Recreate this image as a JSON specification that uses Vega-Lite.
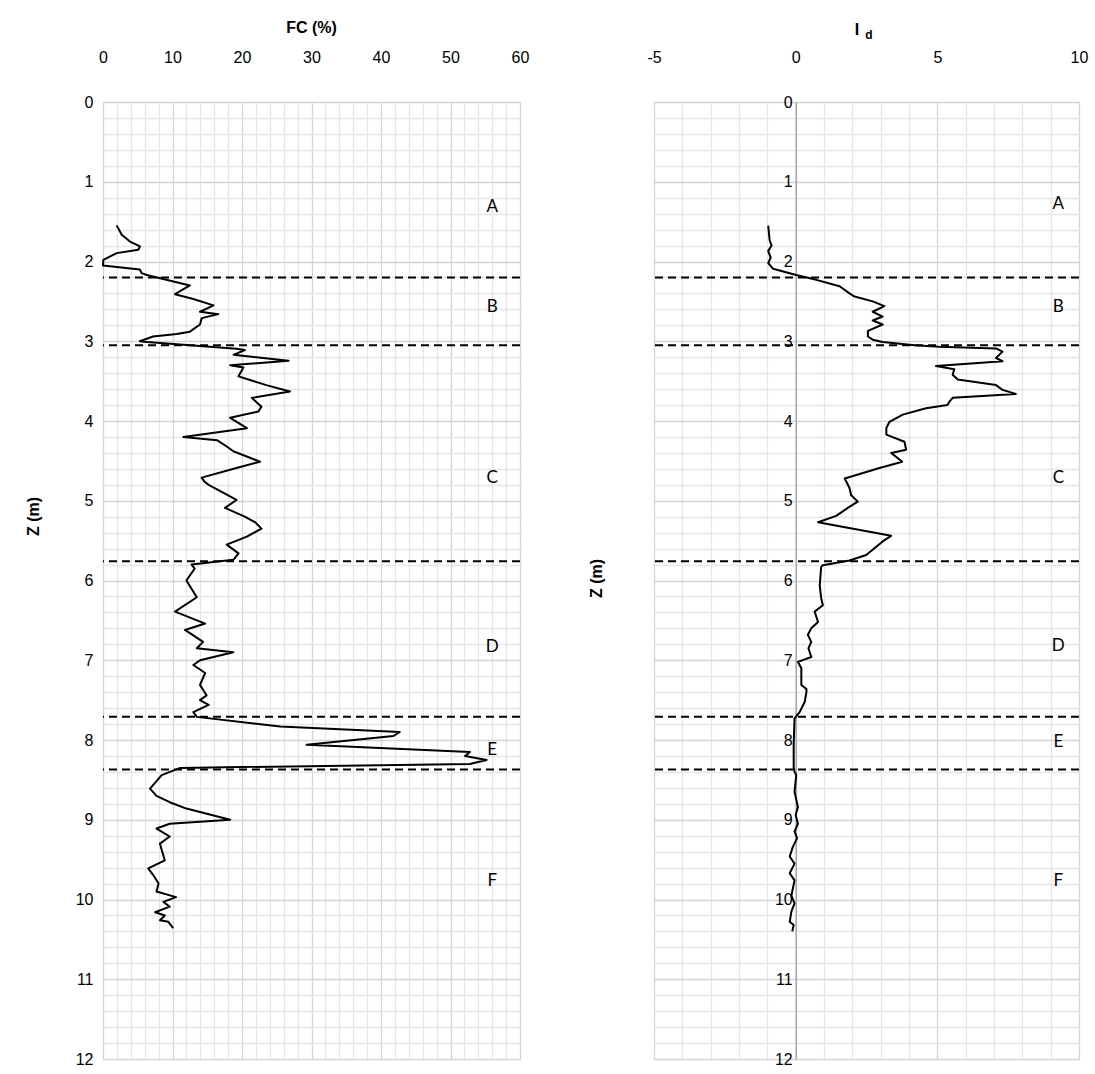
{
  "$schema": "https://vega.github.io/schema/vega-lite/v6.json",
  "padding": {"left": 25, "top": 19, "right": 5, "bottom": 5},
  "background": "white",
  "config": {
    "view": {"stroke": "#bfbfbf", "strokeWidth": 1}
  },
  "datasets": {
    "fc": [
      {"z": 1.547, "fc": 1.97}, {"z": 1.665, "fc": 2.69}, {"z": 1.75, "fc": 3.88}, {"z": 1.81, "fc": 5.32}, {"z": 1.853, "fc": 5.08},
      {"z": 1.895, "fc": 1.97}, {"z": 1.98, "fc": 0.05}, {"z": 2.05, "fc": 0.0}, {"z": 2.10, "fc": 5.3}, {"z": 2.146, "fc": 5.56},
      {"z": 2.17, "fc": 6.3}, {"z": 2.30, "fc": 12.5}, {"z": 2.41, "fc": 10.36}, {"z": 2.47, "fc": 13.0}, {"z": 2.55, "fc": 15.9},
      {"z": 2.63, "fc": 13.96}, {"z": 2.66, "fc": 16.6}, {"z": 2.71, "fc": 14.2}, {"z": 2.79, "fc": 13.96}, {"z": 2.88, "fc": 12.5},
      {"z": 2.91, "fc": 10.6}, {"z": 2.94, "fc": 7.2}, {"z": 3.0, "fc": 5.3}, {"z": 3.01, "fc": 6.3}, {"z": 3.095, "fc": 19.2},
      {"z": 3.11, "fc": 20.4}, {"z": 3.17, "fc": 18.8}, {"z": 3.245, "fc": 26.7}, {"z": 3.30, "fc": 18.3}, {"z": 3.33, "fc": 20.2},
      {"z": 3.44, "fc": 19.5}, {"z": 3.55, "fc": 23.5}, {"z": 3.63, "fc": 26.9}, {"z": 3.71, "fc": 21.4}, {"z": 3.82, "fc": 22.8},
      {"z": 3.88, "fc": 22.35}, {"z": 3.96, "fc": 18.3}, {"z": 4.09, "fc": 20.7}, {"z": 4.2, "fc": 11.55}, {"z": 4.24, "fc": 16.4},
      {"z": 4.32, "fc": 17.8}, {"z": 4.38, "fc": 18.75}, {"z": 4.51, "fc": 22.6}, {"z": 4.59, "fc": 19.2}, {"z": 4.71, "fc": 14.2},
      {"z": 4.76, "fc": 14.6}, {"z": 4.80, "fc": 15.2}, {"z": 4.91, "fc": 17.55}, {"z": 4.99, "fc": 19.2}, {"z": 5.09, "fc": 17.55},
      {"z": 5.20, "fc": 20.4}, {"z": 5.27, "fc": 21.9}, {"z": 5.35, "fc": 22.8}, {"z": 5.45, "fc": 20.7}, {"z": 5.55, "fc": 17.8},
      {"z": 5.66, "fc": 19.5}, {"z": 5.74, "fc": 18.75}, {"z": 5.80, "fc": 12.75}, {"z": 5.85, "fc": 13.2}, {"z": 6.0, "fc": 12.0},
      {"z": 6.21, "fc": 13.5}, {"z": 6.39, "fc": 10.36}, {"z": 6.54, "fc": 14.7}, {"z": 6.62, "fc": 11.8}, {"z": 6.77, "fc": 14.4},
      {"z": 6.85, "fc": 13.5}, {"z": 6.90, "fc": 18.75}, {"z": 7.0, "fc": 13.96}, {"z": 7.06, "fc": 13.0}, {"z": 7.16, "fc": 14.7},
      {"z": 7.31, "fc": 13.96}, {"z": 7.44, "fc": 14.9}, {"z": 7.50, "fc": 13.96}, {"z": 7.56, "fc": 15.2}, {"z": 7.65, "fc": 13.0},
      {"z": 7.71, "fc": 13.5}, {"z": 7.83, "fc": 25.5}, {"z": 7.90, "fc": 42.7}, {"z": 7.95, "fc": 41.8}, {"z": 8.06, "fc": 29.3},
      {"z": 8.15, "fc": 52.8}, {"z": 8.20, "fc": 52.1}, {"z": 8.25, "fc": 55.2}, {"z": 8.30, "fc": 52.8}, {"z": 8.35, "fc": 11.1},
      {"z": 8.44, "fc": 8.45}, {"z": 8.61, "fc": 6.76}, {"z": 8.70, "fc": 7.7}, {"z": 8.78, "fc": 9.6}, {"z": 8.86, "fc": 12.0},
      {"z": 9.0, "fc": 18.3}, {"z": 9.05, "fc": 9.6}, {"z": 9.11, "fc": 7.7}, {"z": 9.21, "fc": 9.6}, {"z": 9.30, "fc": 8.2},
      {"z": 9.38, "fc": 8.45}, {"z": 9.51, "fc": 8.9}, {"z": 9.61, "fc": 6.5}, {"z": 9.69, "fc": 7.2}, {"z": 9.80, "fc": 8.0},
      {"z": 9.90, "fc": 7.7}, {"z": 9.97, "fc": 10.5}, {"z": 10.03, "fc": 8.7}, {"z": 10.09, "fc": 9.6}, {"z": 10.16, "fc": 7.5},
      {"z": 10.20, "fc": 8.9}, {"z": 10.26, "fc": 8.2}, {"z": 10.28, "fc": 9.4}, {"z": 10.36, "fc": 10.1}
    ],
    "id": [
      {"z": 1.55, "id": -0.97}, {"z": 1.73, "id": -0.92}, {"z": 1.80, "id": -0.85}, {"z": 1.87, "id": -0.97}, {"z": 1.95, "id": -0.88},
      {"z": 2.02, "id": -0.97}, {"z": 2.09, "id": -0.80}, {"z": 2.17, "id": 0.02}, {"z": 2.23, "id": 0.73}, {"z": 2.31, "id": 1.55},
      {"z": 2.40, "id": 1.90}, {"z": 2.44, "id": 2.08}, {"z": 2.50, "id": 2.72}, {"z": 2.56, "id": 3.13}, {"z": 2.63, "id": 2.72},
      {"z": 2.69, "id": 3.07}, {"z": 2.74, "id": 2.72}, {"z": 2.79, "id": 3.07}, {"z": 2.87, "id": 2.55}, {"z": 2.94, "id": 2.55},
      {"z": 2.98, "id": 2.72}, {"z": 3.01, "id": 3.07}, {"z": 3.05, "id": 4.2}, {"z": 3.07, "id": 5.07}, {"z": 3.09, "id": 7.07},
      {"z": 3.13, "id": 7.3}, {"z": 3.21, "id": 7.07}, {"z": 3.25, "id": 7.3}, {"z": 3.31, "id": 4.95}, {"z": 3.35, "id": 5.6},
      {"z": 3.42, "id": 5.54}, {"z": 3.48, "id": 5.72}, {"z": 3.55, "id": 7.07}, {"z": 3.61, "id": 7.3}, {"z": 3.66, "id": 7.77},
      {"z": 3.71, "id": 5.54}, {"z": 3.76, "id": 5.42}, {"z": 3.80, "id": 5.36}, {"z": 3.84, "id": 4.6}, {"z": 3.92, "id": 3.78},
      {"z": 4.01, "id": 3.31}, {"z": 4.09, "id": 3.2}, {"z": 4.17, "id": 3.2}, {"z": 4.26, "id": 3.84}, {"z": 4.36, "id": 3.9},
      {"z": 4.40, "id": 3.37}, {"z": 4.51, "id": 3.76}, {"z": 4.59, "id": 2.96}, {"z": 4.72, "id": 1.73}, {"z": 4.84, "id": 1.90},
      {"z": 4.93, "id": 1.96}, {"z": 5.01, "id": 2.19}, {"z": 5.09, "id": 1.84}, {"z": 5.19, "id": 1.43}, {"z": 5.27, "id": 0.79},
      {"z": 5.32, "id": 1.55}, {"z": 5.44, "id": 3.37}, {"z": 5.51, "id": 3.07}, {"z": 5.68, "id": 2.49}, {"z": 5.75, "id": 1.90},
      {"z": 5.81, "id": 0.96}, {"z": 5.83, "id": 0.90}, {"z": 6.06, "id": 0.85}, {"z": 6.22, "id": 0.90}, {"z": 6.31, "id": 0.96},
      {"z": 6.39, "id": 0.67}, {"z": 6.52, "id": 0.79}, {"z": 6.60, "id": 0.55}, {"z": 6.68, "id": 0.43}, {"z": 6.77, "id": 0.55},
      {"z": 6.85, "id": 0.45}, {"z": 6.96, "id": 0.55}, {"z": 7.02, "id": 0.08}, {"z": 7.10, "id": 0.2}, {"z": 7.31, "id": 0.2},
      {"z": 7.36, "id": 0.38}, {"z": 7.40, "id": 0.38}, {"z": 7.52, "id": 0.32}, {"z": 7.65, "id": 0.14}, {"z": 7.73, "id": -0.04},
      {"z": 8.06, "id": -0.07}, {"z": 8.34, "id": -0.07}, {"z": 8.40, "id": -0.04}, {"z": 8.44, "id": 0.02}, {"z": 8.65, "id": -0.04},
      {"z": 8.84, "id": 0.08}, {"z": 8.94, "id": 0.0}, {"z": 9.05, "id": 0.08}, {"z": 9.15, "id": -0.04}, {"z": 9.23, "id": 0.05},
      {"z": 9.34, "id": -0.1}, {"z": 9.46, "id": -0.21}, {"z": 9.55, "id": -0.04}, {"z": 9.67, "id": -0.21}, {"z": 9.76, "id": -0.04},
      {"z": 9.95, "id": -0.15}, {"z": 10.05, "id": -0.04}, {"z": 10.15, "id": -0.15}, {"z": 10.28, "id": -0.21}, {"z": 10.32, "id": -0.07},
      {"z": 10.40, "id": -0.12}
    ],
    "bounds": [{"z": 2.2}, {"z": 3.05}, {"z": 5.76}, {"z": 7.71}, {"z": 8.37}],
    "zonesFC": [
      {"zone": "A", "z": 1.32, "fc": 56}, {"zone": "B", "z": 2.57, "fc": 56}, {"zone": "C", "z": 4.72, "fc": 56},
      {"zone": "D", "z": 6.84, "fc": 56}, {"zone": "E", "z": 8.13, "fc": 56}, {"zone": "F", "z": 9.77, "fc": 56}
    ],
    "zonesId": [
      {"zone": "A", "z": 1.28, "id": 9.27}, {"zone": "B", "z": 2.57, "id": 9.27}, {"zone": "C", "z": 4.72, "id": 9.27},
      {"zone": "D", "z": 6.82, "id": 9.27}, {"zone": "E", "z": 8.02, "id": 9.27}, {"zone": "F", "z": 9.77, "id": 9.27}
    ]
  },
  "bounds": "flush",
  "spacing": 134,
  "hconcat": [
    {
      "width": 417,
      "height": 957,
      "title": {"text": "FC (%)", "offset": 13, "anchor": "middle", "font": "Liberation Sans", "fontSize": 16, "fontWeight": "bold", "color": "#000000"},
      "layer": [
        {
          "data": {"name": "fc"},
          "mark": {"type": "line", "color": "#000000", "strokeWidth": 2, "strokeJoin": "round"},
          "encoding": {
            "x": {"field": "fc", "type": "quantitative",
              "scale": {"domain": [0, 60], "nice": false, "zero": false},
              "axis": {"orient": "top", "title": null, "tickCount": 500,
                "values": [0,2,4,6,8,10,12,14,16,18,20,22,24,26,28,30,32,34,36,38,40,42,44,46,48,50,52,54,56,58,60],
                "labelExpr": "datum.value % 10 === 0 ? '' + round(datum.value) : ''",
                "labelFont": "Liberation Sans", "labelFontSize": 16, "labelColor": "#000000",
                "labelOverlap": false, "labelBound": false, "labelFlush": false,
                "grid": true,
                "gridColor": {"condition": {"test": "datum.value % 10 === 0", "value": "#d4d4d4"}, "value": "#e6e6e6"},
                "gridWidth": 1.3,
                "ticks": false, "domain": false, "labelPadding": 37}},
            "y": {"field": "z", "type": "quantitative",
              "scale": {"domain": [0, 12], "reverse": true, "nice": false, "zero": false},
              "axis": {"title": "Z (m)", "titleX": -61.5, "titleY": 414, "tickCount": 500,
                "titleFont": "Liberation Sans", "titleFontSize": 16, "titleFontWeight": "bold", "titleColor": "#000000",
                "values": [0,0.2,0.4,0.6,0.8,1,1.2,1.4,1.6,1.8,2,2.2,2.4,2.6,2.8,3,3.2,3.4,3.6,3.8,4,4.2,4.4,4.6,4.8,5,5.2,5.4,5.6,5.8,6,6.2,6.4,6.6,6.8,7,7.2,7.4,7.6,7.8,8,8.2,8.4,8.6,8.8,9,9.2,9.4,9.6,9.8,10,10.2,10.4,10.6,10.8,11,11.2,11.4,11.6,11.8,12],
                "labelExpr": "abs(datum.value - round(datum.value)) < 0.01 ? '' + round(datum.value) : ''",
                "labelFont": "Liberation Sans", "labelFontSize": 16, "labelColor": "#000000",
                "labelOverlap": false, "labelBound": false, "labelFlush": false,
                "grid": true,
                "gridColor": {"condition": {"test": "abs(datum.value - round(datum.value)) < 0.01", "value": "#d4d4d4"}, "value": "#e6e6e6"},
                "gridWidth": 1.3,
                "ticks": false, "domain": false, "labelPadding": 10}},
            "order": {"field": "z", "type": "quantitative"}
          }
        },
        {
          "data": {"name": "bounds"},
          "mark": {"type": "rule", "color": "#000000", "strokeWidth": 2, "strokeDash": [8, 5]},
          "encoding": {"y": {"field": "z", "type": "quantitative"}}
        },
        {
          "data": {"name": "zonesFC"},
          "mark": {"type": "text", "font": "Lato", "fontSize": 17, "color": "#000000"},
          "encoding": {
            "x": {"field": "fc", "type": "quantitative"},
            "y": {"field": "z", "type": "quantitative"},
            "text": {"field": "zone", "type": "nominal"}
          }
        }
      ]
    },
    {
      "width": 425,
      "height": 957,
      "title": {"text": "I", "dx": -9.5, "offset": -10, "anchor": "middle", "font": "Liberation Sans", "fontSize": 16, "fontWeight": "bold", "color": "#000000"},
      "layer": [
        {
          "data": {"name": "id"},
          "mark": {"type": "line", "color": "#000000", "strokeWidth": 2, "strokeJoin": "round"},
          "encoding": {
            "x": {"field": "id", "type": "quantitative",
              "scale": {"domain": [-5, 10], "nice": false, "zero": false},
              "axis": {"orient": "top", "title": "d", "titleX": 214.5, "titleY": -68, "titleAlign": "center", "titleBaseline": "middle", "titleAngle": 0,
                "titleFont": "Liberation Sans", "titleFontSize": 12, "titleFontWeight": "bold", "titleColor": "#000000", "tickCount": 500,
                "values": [-5,-4,-3,-2,-1,0,1,2,3,4,5,6,7,8,9,10],
                "labelExpr": "datum.value % 5 === 0 ? '' + round(datum.value) : ''",
                "labelFont": "Liberation Sans", "labelFontSize": 16, "labelColor": "#000000",
                "labelOverlap": false, "labelBound": false, "labelFlush": false,
                "grid": true,
                "gridColor": {"condition": {"test": "datum.value % 5 === 0", "value": "#d4d4d4"}, "value": "#e6e6e6"},
                "gridWidth": 1.3,
                "ticks": false, "domain": false, "labelPadding": 37}},
            "y": {"field": "z", "type": "quantitative",
              "scale": {"domain": [0, 12], "reverse": true, "nice": false, "zero": false},
              "axis": {"title": "Z (m)", "offset": -141.7, "titleX": -191.5, "titleY": 476, "tickCount": 500,
                "titleFont": "Liberation Sans", "titleFontSize": 16, "titleFontWeight": "bold", "titleColor": "#000000",
                "values": [0,0.2,0.4,0.6,0.8,1,1.2,1.4,1.6,1.8,2,2.2,2.4,2.6,2.8,3,3.2,3.4,3.6,3.8,4,4.2,4.4,4.6,4.8,5,5.2,5.4,5.6,5.8,6,6.2,6.4,6.6,6.8,7,7.2,7.4,7.6,7.8,8,8.2,8.4,8.6,8.8,9,9.2,9.4,9.6,9.8,10,10.2,10.4,10.6,10.8,11,11.2,11.4,11.6,11.8,12],
                "labelExpr": "abs(datum.value - round(datum.value)) < 0.01 ? '' + round(datum.value) : ''",
                "labelFont": "Liberation Sans", "labelFontSize": 16, "labelColor": "#000000",
                "labelOverlap": false, "labelBound": false, "labelFlush": false,
                "grid": true,
                "gridColor": {"condition": {"test": "abs(datum.value - round(datum.value)) < 0.01", "value": "#d4d4d4"}, "value": "#e6e6e6"},
                "gridWidth": 1.3,
                "ticks": false, "domain": true, "domainColor": "#a8a8a8", "domainWidth": 1.5, "labelPadding": 3.5}},
            "order": {"field": "z", "type": "quantitative"}
          }
        },
        {
          "data": {"name": "bounds"},
          "mark": {"type": "rule", "color": "#000000", "strokeWidth": 2, "strokeDash": [8, 5]},
          "encoding": {"y": {"field": "z", "type": "quantitative"}}
        },
        {
          "data": {"name": "zonesId"},
          "mark": {"type": "text", "font": "Lato", "fontSize": 17, "color": "#000000"},
          "encoding": {
            "x": {"field": "id", "type": "quantitative"},
            "y": {"field": "z", "type": "quantitative"},
            "text": {"field": "zone", "type": "nominal"}
          }
        }
      ]
    }
  ]
}
